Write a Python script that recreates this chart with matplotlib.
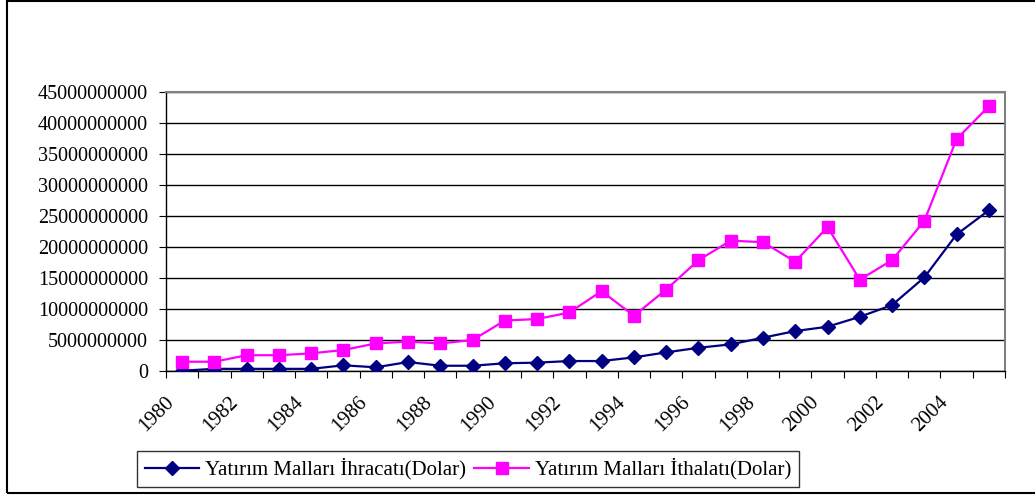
import numpy as np
import matplotlib.pyplot as plt
from matplotlib.patches import Rectangle
from matplotlib.ticker import FixedLocator, NullFormatter

# ----------- DATA -----------
years = list(range(1980, 2006))
ihracat = [0.0, 0.3, 0.3, 0.3, 0.3, 0.87, 0.55, 1.4, 0.8, 0.8,
           1.2, 1.3, 1.56, 1.56, 2.15, 2.96, 3.7, 4.25, 5.33, 6.4,
           7.1, 8.7, 10.6, 15.06, 22.0, 25.9]          # billion USD
ithalat = [1.45, 1.45, 2.5, 2.5, 2.8, 3.34, 4.4, 4.7, 4.4, 4.95,
           8.1, 8.34, 9.4, 12.85, 8.87, 13.1, 17.85, 21.0, 20.75, 17.6,
           23.2, 14.7, 17.85, 24.2, 37.4, 42.7]        # billion USD
yticks = [0, 5e9, 10e9, 15e9, 20e9, 25e9, 30e9, 35e9, 40e9, 45e9]
label1 = "Yatırım Malları İhracatı(Dolar)"
label2 = "Yatırım Malları İthalatı(Dolar)"

plt.rcParams['font.family'] = ['Liberation Serif', 'DejaVu Serif']

fig = plt.figure(figsize=(10.35, 4.97), dpi=100)
ax = fig.add_axes([166/1035, (497-370.7)/497, (1005-166)/1035, (370.7-92)/497])

x = np.arange(len(years))
exp = np.array(ihracat) * 1e9
imp = np.array(ithalat) * 1e9

l1, = ax.plot(x, exp, color="#000080", lw=1.6, marker="D", ms=7.5, zorder=3, label=label1)
l2, = ax.plot(x, imp, color="#FF00FF", lw=1.6, marker="s", ms=9, zorder=3, label=label2)

ax.set_xlim(-0.5, len(years) - 0.5)
ax.set_ylim(0, 45e9)
ax.set_yticks(yticks)
ax.set_yticklabels([str(int(v)) for v in yticks], fontsize=14.5)
ax.grid(axis="y", color="black", lw=1.0)
ax.set_axisbelow(True)

# ticks at category boundaries, labels at every other category centre
ax.xaxis.set_major_locator(FixedLocator(np.arange(-0.5, len(years), 1.0)))
ax.xaxis.set_major_formatter(NullFormatter())
ax.tick_params(axis="x", which="major", direction="out", length=5, color="black")
lab_idx = np.arange(0, len(years) - 1, 2)
for i in lab_idx:
    ax.annotate(str(years[i]), xy=(i, 0), xycoords=("data", "axes fraction"),
                xytext=(-8, -21), textcoords="offset points",
                rotation=45, ha="right", va="center", rotation_mode="anchor",
                fontsize=15)
ax.tick_params(axis="y", direction="out", length=5, pad=8)

for s in ["top", "right"]:
    ax.spines[s].set_color("#808080")
    ax.spines[s].set_linewidth(1.5)
for s in ["left", "bottom"]:
    ax.spines[s].set_color("black")
    ax.spines[s].set_linewidth(1.0)

leg = fig.legend(handles=[l1, l2], loc="center", bbox_to_anchor=(468/1035, 1 - 469/497),
                 ncol=2, fontsize=15, frameon=True, fancybox=False, handlelength=2.6,
                 columnspacing=0.4, handletextpad=0.3, borderpad=0.35)
leg.get_frame().set_edgecolor("black")
leg.get_frame().set_linewidth(1.0)

# outer chart frame
fig.patches.append(Rectangle((7/1035, 4/497), 1.1, 492/497, transform=fig.transFigure,
                             fill=False, edgecolor="black", lw=1.5))

fig.savefig("out.png", dpi=100)
